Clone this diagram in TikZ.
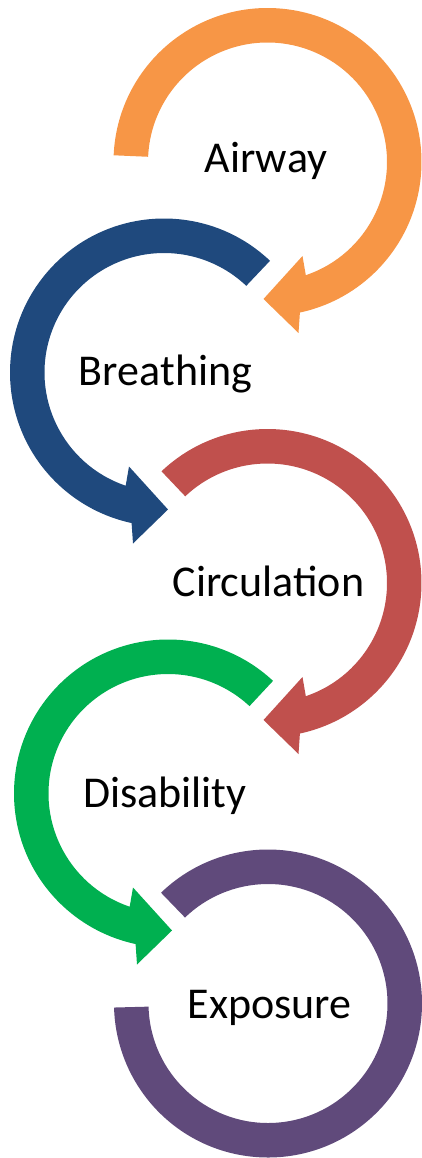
\documentclass[tikz,border=0pt]{standalone}
\usepackage{fontspec}
\setmainfont{Carlito}
\definecolor{abcorange}{HTML}{F79646}
\definecolor{abcblue}{HTML}{1F497D}
\definecolor{abcred}{HTML}{C0504D}
\definecolor{abcgreen}{HTML}{00B050}
\definecolor{abcpurple}{HTML}{604A7B}
% ring radii (in px-sized points)
\def\Rout{154}
\def\Rin{119.5}
% circular arrow turning clockwise, head at the bottom pointing left
% #1 colour, #2 start angle, #3 scope options (placement / mirroring)
\newcommand\ringarrow[3]{%
  \begin{scope}[#3]
    \fill[#1] (#2:\Rout) arc[start angle=#2, end angle=-77.85, radius=\Rout]
      -- (31,-171) -- (-4,-137) -- (35,-94)
      -- (-71.3:\Rin) arc[start angle=-71.3, end angle=#2, radius=\Rin] -- cycle;
  \end{scope}}
\tikzset{steplabel/.style={anchor=base, inner sep=0pt, font=\fontsize{44}{50}\selectfont, text=black}}
\begin{document}
\begin{tikzpicture}[x=1pt,y=1pt]
  \useasboundingbox (0,0) rectangle (422,-1158);
  % arrows of the sequence
  \ringarrow{abcorange}{177.5}{shift={(267.5,-162)}}
  \ringarrow{abcblue}{133.5}{shift={(164,-372.5)}, xscale=-1}
  \ringarrow{abcred}{133.5}{shift={(267.5,-583)}}
  \ringarrow{abcgreen}{133}{shift={(168,-793.5)}, xscale=-1}
  % last ring, no head
  \begin{scope}[shift={(268,-1003.5)}]
    \fill[abcpurple] (134:\Rout) arc[start angle=134, end angle=-178.5, radius=\Rout]
      -- (-178.5:\Rin) arc[start angle=-178.5, end angle=134, radius=\Rin] -- cycle;
  \end{scope}
  % labels
  \node[steplabel] (airway) at (266,-173) {Airway};
  \node[steplabel] (breathing) at (165.5,-385) {Breathing};
  \node[steplabel] (circulation) at (268.5,-596) {Circulation};
  \node[steplabel] (disability) at (165,-807) {Disability};
  \node[steplabel] (exposure) at (269.5,-1018) {Exposure};
\end{tikzpicture}
\end{document}
